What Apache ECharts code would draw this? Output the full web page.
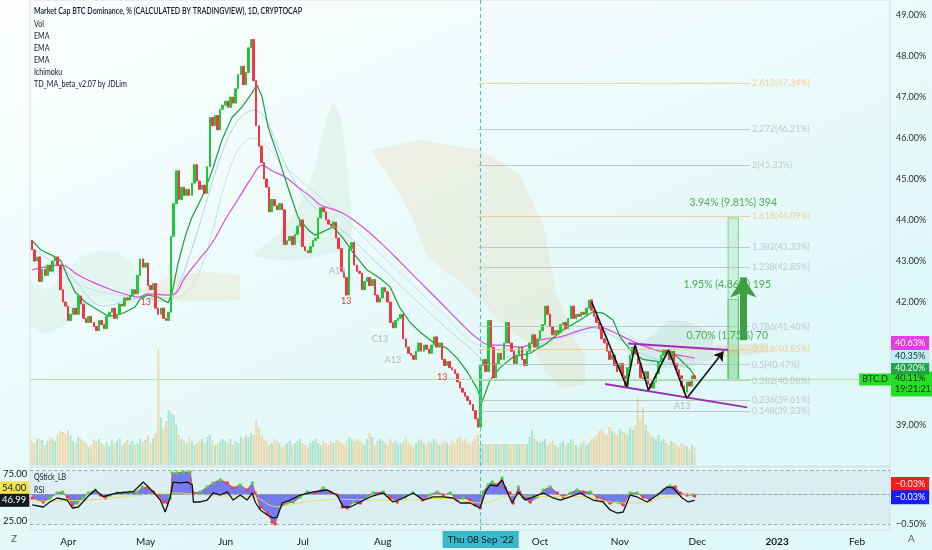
<!DOCTYPE html>
<html><head><meta charset="utf-8">
<script src="https://cdn.jsdelivr.net/npm/echarts@6/dist/echarts.min.js"></script>
<style>html,body{margin:0;padding:0;background:#fff}#c{width:932px;height:550px}</style>
</head><body><div id="c"></div>
<script>
// ================= DATA (day index 0 = 18 Mar 2022) =================
const firstOpen = 43.5;
const closeMar = [43.27, 43.0, 43.1, 42.5, 42.8, 42.65, 42.9, 42.75, 43.0, 43.1, 42.9, 42.3, 42.0, 41.9];
const closeApr = [41.55, 41.7, 41.85, 41.7, 42.15, 41.95, 41.6, 41.5, 41.65, 41.5, 41.4, 41.3, 41.55, 41.45, 41.35, 41.65, 41.75, 41.85, 41.6, 41.7, 41.95, 41.9, 42.1, 42.05, 42.15, 42.3, 42.2, 42.65, 43.05, 42.85];
const closeMay = [42.95, 42.4, 42.3, 42.45, 41.85, 41.7, 41.85, 41.6, 41.55, 41.75, 43.6, 44.4, 45.2, 44.5, 44.8, 44.6, 44.75, 44.6, 44.9, 45.35, 44.95, 44.75, 44.85, 44.65, 45.3, 46.5, 46.3, 46.55, 46.2, 46.7, 46.8];
const closeJun = [46.9, 46.75, 47.0, 46.85, 47.2, 47.55, 47.75, 47.3, 47.6, 48.2, 48.4, 47.4, 46.3, 45.8, 45.4, 45.0, 44.8, 44.2, 44.5, 44.35, 44.25, 44.4, 44.25, 43.4, 43.5, 43.6, 43.4, 43.65, 43.85, 44.0];
const closeJul = [43.35, 43.25, 43.2, 43.35, 43.5, 43.55, 44.05, 44.3, 44.2, 44.0, 43.9, 43.85, 43.95, 43.56, 43.3, 42.75, 42.6, 42.17, 43.3, 43.45, 42.9, 42.75, 42.7, 42.3, 42.5, 42.6, 42.4, 42.55, 42.17, 42.0, 42.1];
const closeAug = [42.35, 42.25, 42.0, 41.5, 41.37, 41.55, 41.6, 41.7, 41.1, 40.9, 40.75, 40.7, 40.6, 40.8, 41.0, 40.8, 40.95, 40.85, 40.75, 40.95, 41.15, 40.9, 41.0, 40.6, 40.45, 40.55, 40.4, 40.35, 40.25, 40.05, 39.9];
const closeSep = [39.8, 39.7, 39.6, 39.5, 39.35, 39.15, 38.95, 40.45, 40.6, 40.3, 41.55, 40.9, 40.15, 40.5, 40.75, 40.6, 41.0, 41.5, 41.0, 40.8, 40.5, 40.7, 40.9, 40.6, 40.45, 40.8, 41.0, 41.2, 40.9, 41.1];
const closeOct = [41.3, 41.45, 41.9, 41.7, 41.4, 41.2, 41.3, 41.25, 41.45, 41.5, 41.35, 41.6, 41.9, 41.6, 41.7, 41.65, 41.75, 41.7, 41.85, 42.05, 41.8, 41.65, 41.5, 41.35, 41.1, 41.0, 40.8, 40.6, 40.7, 40.45, 40.3];
const closeNov = [40.5, 40.2, 39.95, 40.4, 40.7, 40.9, 40.75, 40.5, 40.15, 40.1, 40.3, 40.0, 39.9, 40.05, 40.25, 40.55, 40.7, 40.83, 40.75, 40.6, 40.8, 40.5, 40.35, 40.2, 39.95, 39.8, 40.05, 39.95, 40.2, 40.11];

const volMar = [24, 22, 26, 27, 25, 20, 24, 28, 26, 24, 30, 34, 33, 31];
const volApr = [35, 30, 24, 22, 28, 26, 24, 22, 18, 20, 25, 24, 26, 22, 20, 23, 19, 25, 22, 24, 27, 20, 22, 25, 21, 24, 20, 22, 26, 23];
const volMay = [25, 30, 22, 27, 32, 116, 48, 38, 44, 55, 52, 50, 40, 30, 26, 24, 22, 28, 24, 20, 22, 24, 26, 22, 28, 30, 25, 20, 22, 24, 26];
const volJun = [24, 22, 26, 20, 24, 22, 28, 26, 30, 28, 32, 30, 45, 37, 30, 26, 24, 20, 22, 26, 24, 22, 18, 20, 22, 24, 20, 22, 24, 26];
const volJul = [22, 20, 18, 22, 24, 26, 22, 20, 24, 22, 20, 24, 22, 26, 24, 22, 20, 24, 28, 26, 24, 26, 24, 22, 20, 26, 32, 28, 20, 24, 26];
const volAug = [24, 22, 20, 26, 22, 24, 20, 22, 24, 28, 22, 20, 18, 22, 24, 26, 22, 20, 24, 22, 26, 24, 20, 22, 24, 22, 20, 24, 22, 26, 28];
const volSep = [24, 26, 22, 20, 24, 26, 30, 21, 21, 21, 21, 21, 21, 21, 21, 21, 21, 21, 21, 21, 21, 21, 21, 21, 21, 21, 28, 35, 26, 24];
const volOct = [22, 24, 26, 20, 22, 24, 20, 18, 22, 24, 20, 22, 26, 24, 20, 18, 22, 24, 20, 22, 26, 28, 30, 34, 36, 32, 30, 38, 34, 32, 30];
const volNov = [36, 34, 32, 30, 38, 35, 40, 68, 45, 58, 40, 34, 30, 28, 26, 30, 24, 26, 22, 20, 24, 22, 20, 18, 22, 20, 18, 16, 20, 18];

// moving averages: [dayIndex, value]
const emaMagenta = [[0,42.78],[11.4,42.9],[17.9,42.66],[24.4,42.46],[30.8,42.3],[37.3,42.17],[41.2,42.12],[45,42.2],[52.8,42.17],[55.5,42.2],[59.4,42.6],[64.4,43.0],[69.9,43.44],[74.9,44.0],[79.9,44.5],[85.4,45.05],[89.3,45.34],[93.1,45.2],[98.2,45.05],[103.2,44.8],[108.7,44.54],[111.7,44.37],[119.5,44.2],[127.3,43.88],[135,43.46],[142.8,42.98],[150.5,42.49],[158.3,42.0],[166.1,41.5],[172.6,41.12],[177.7,40.95],[181.6,40.95],[189.3,40.9],[197.1,41.07],[204.9,41.15],[212.6,41.3],[219.2,41.4],[225.4,41.27],[232,41.07],[238.6,40.9],[244.8,40.78],[251.4,40.7],[257,40.63]];
const tdMA = [[0,43.5],[3.5,43.27],[9,43.1],[11.3,43.0],[14,42.6],[16.7,42.25],[20.6,42.0],[24.5,41.85],[29.5,41.66],[32.2,41.66],[36.1,41.75],[40,41.88],[42.3,42.1],[45,42.17],[48.9,42.12],[52.8,41.98],[54.3,42.2],[56.7,42.95],[59.4,43.59],[62.1,44.07],[66,44.56],[69.9,45.2],[73.7,45.95],[77.6,46.5],[81.5,46.76],[85.4,47.1],[87.3,47.3],[89.3,47.0],[91.6,46.27],[95.5,45.54],[99.3,44.8],[103.2,44.07],[107.1,43.76],[109.8,43.63],[111.7,43.68],[116.8,43.83],[120.7,43.56],[124.6,43.2],[130,42.78],[135,42.58],[138.9,42.37],[142.8,41.85],[146.7,41.5],[150.5,41.27],[155.6,41.02],[161,40.87],[164.9,40.63],[168.8,40.3],[172.6,39.9],[174.6,39.56],[177.7,40.1],[181.6,40.4],[186.6,40.66],[193.2,40.75],[199.8,41.0],[206,41.32],[212.6,41.56],[217.6,41.76],[221.5,41.73],[225.4,41.56],[228.1,41.15],[232,40.83],[237,40.6],[243.6,40.54],[247.5,40.8],[251.4,40.6],[255.3,40.35],[257,40.2]];
const emaBlueFast = [[0,43.3],[14,42.7],[28,41.9],[42,42.1],[53,42.0],[55.5,42.2],[86.5,46.68],[90.4,46.5],[97,45.54],[103.2,44.8],[109.8,44.3],[119.5,43.8],[142.8,42.41],[158.3,41.5],[169.9,40.88],[177.7,40.5],[181.6,40.59],[193,40.88],[205,41.15],[216.5,41.37],[226,41.15],[235.9,40.76],[245.6,40.54],[257,40.35]];
const emaBlueSlow = [[0,43.0],[30,42.2],[55,42.1],[86,46.0],[100,45.2],[120,44.1],[143,42.7],[158,41.8],[175,40.9],[190,40.8],[210,41.2],[225,41.3],[240,40.9],[257,40.55]];

// Ichimoku cloud outlines [dayIndex, value]
const cloudGreenA = [[-0.7,42.5],[6,42.3],[12,42.6],[18,43.1],[26,43.25],[34,43.2],[40,42.9],[40,41.95],[30,42.0],[20,41.9],[12,41.4],[4,41.2],[-0.7,41.4]];
const cloudBeigeA = [[41.9,42.29],[55.5,42.66],[69.1,42.73],[80.7,42.66],[80.7,42.05],[65.2,42.0],[49.7,42.05],[41.9,42.1]];
const cloudGreenB = [[86.5,43.22],[95,43.6],[104,44.4],[110,45.3],[114,46.5],[117,46.9],[120,46.5],[122,45.5],[124,44.0],[124,43.3],[110,43.1],[100,43.0],[86.5,43.1]];
const cloudBeigeB = [[131.1,45.71],[150.5,45.95],[173.8,45.71],[189.3,45.1],[199,43.76],[202.9,42.29],[210.7,41.07],[214.6,40.71],[214.6,39.98],[204.9,39.9],[199,40.34],[193.2,40.95],[181.6,41.51],[173.8,42.05],[164.9,42.54],[153.3,43.1],[146.7,44.17],[137,45.22]];
const cloudGreenC = [[235.9,40.95],[247.5,41.56],[255.3,41.51],[264.2,41.2],[264.2,40.59],[255.3,40.41],[243.6,40.39],[235.9,40.59]];
const cloudBeigeC = [[265,40.95],[285.2,41.0],[285.2,40.76],[265,40.63]];

// Fibonacci levels drawn from the 7 Sep low
const fibRatio = ['2.618','2.272','2','1.618','1.382','1.238','0.786','0.618','0.5','0.382','0.236','0.148'];
const fibValue = [47.34, 46.21, 45.33, 44.09, 43.33, 42.85, 41.40, 40.85, 40.47, 40.08, 39.61, 39.33];
const fibStartIdx = 173, fibEndIdx = 278.5;

// drawings
const zigzag = [[217.1,42.0],[230.7,39.93],[233.9,40.95],[239.1,39.85],[246.9,40.83],[254,39.65]];
const zigzagArrowEnd = [268.2,40.79];
const channelTop = [[231.2,40.99],[270,40.83]];
const channelBottom = [[222.3,40.0],[277.4,39.43]];
const measureX = [270, 274];
const measureBase = 40.11;
const measureTops = [44.05, 42.06, 40.81];
const measureText = ['3.94% (9.81%) 394', '1.95% (4.86%) 195', '0.70% (1.75%) 70'];
const bigArrow = {x: 275.9, from: 41.07, to: 42.6};

// TD sequential markers
const tdMarks = [[44.2,42.0,'13','r'],[121.9,42.02,'13','r'],[159.1,40.17,'13','r'],[140,40.59,'A13','g'],[135,41.1,'C13','g'],[118.4,42.76,'A13','g'],[252.2,39.46,'A13','g']];

// lower pane: RSI, QStick and RSI MA [dayIndex, value]
const rsiPts = [[0,42.0],[4.3,39.8],[7,45.5],[9.7,49.5],[13.6,47.3],[15.6,38.7],[17.9,39.8],[21.4,50.6],[24.5,58.1],[27.6,50.9],[33,54.9],[39.2,56.3],[43.1,66.7],[47,56.0],[49.7,47.3],[51.6,34.4],[53.6,50.6],[54.7,66.7],[57.5,65.7],[60.2,66.7],[62.1,63.5],[62.5,45.2],[65.2,45.2],[67.9,47.3],[70.2,54.9],[73,52.7],[75.7,56.0],[78,47.3],[80.7,52.7],[83.4,47.3],[85.4,54.9],[86.5,45.2],[88.5,36.6],[91.2,31.2],[93.5,27.9],[95.1,29.0],[97,44.1],[100.1,47.3],[104,52.7],[109,56.0],[114.5,58.1],[118.3,52.7],[120.7,39.8],[123.4,39.8],[127.3,45.2],[131.1,50.6],[136.2,54.9],[140,45.2],[143.9,49.5],[147.8,54.9],[151.7,47.3],[155.6,50.6],[159.5,50.6],[163.3,49.5],[166.1,44.1],[169.9,44.1],[173.8,38.7],[175.8,56.0],[177.7,63.5],[180.4,62.4],[182.3,68.9],[184.3,56.0],[186.2,44.1],[188.6,56.0],[191.3,47.3],[194.4,50.6],[198.3,54.9],[202.1,49.5],[204.9,47.3],[208.7,50.6],[212.6,54.9],[215.3,50.6],[217.6,47.3],[221.5,45.2],[224.2,36.6],[226.9,33.3],[229.3,34.4],[232,52.7],[234.7,50.6],[238.6,45.2],[242.5,52.7],[246.3,61.4],[248.7,60.3],[252.2,49.5],[254.5,45.2],[257,46.99]];
const qstickPts = [[0,-0.06],[4.3,-0.13],[7,-0.06],[9.7,0.02],[11.7,0.04],[13.6,-0.045],[15.6,-0.18],[17.5,-0.145],[19.8,-0.06],[21.8,0.02],[24.5,0.07],[26.4,-0.01],[28.4,-0.06],[30.3,-0.01],[33,0.02],[35.3,0.02],[38.1,0.04],[40.8,0.04],[42.7,0.12],[44.6,0.105],[47,0.04],[48.9,-0.01],[50.9,-0.13],[52.4,-0.145],[53.6,-0.06],[54.3,0.355],[56.3,0.355],[58.6,0.37],[61.3,0.37],[62.5,0.02],[65.2,0.04],[67.9,0.12],[70.2,0.19],[73,0.24],[75.7,0.19],[78,0.105],[80.7,0.155],[83.4,0.07],[85.4,0.19],[86.5,0.02],[88.5,-0.21],[91.2,-0.31],[93.1,-0.46],[94.3,-0.495],[96.2,-0.21],[98.9,-0.145],[101.3,-0.13],[104,-0.045],[106.7,0.04],[109.8,0.02],[112.9,0.105],[115.6,0.04],[118.3,-0.01],[120.3,-0.21],[122.2,-0.23],[124.6,-0.13],[127.3,-0.145],[130,-0.045],[132.3,0.02],[136.2,0.04],[138.9,-0.045],[141.6,-0.13],[144.7,-0.045],[147.8,0.02],[151.3,-0.095],[154.4,-0.01],[157.1,0.04],[159.5,-0.01],[162.2,0.02],[164.9,-0.095],[167.2,-0.06],[169.9,-0.095],[171.9,-0.18],[173.8,-0.23],[175,0.04],[176.9,0.155],[178.5,0.205],[180.4,0.155],[182.3,0.27],[183.5,0.105],[185.4,0.02],[186.6,-0.145],[188.6,0.12],[190.5,-0.045],[193.2,-0.13],[195.9,-0.045],[198.3,0.07],[201,0.12],[203.7,0.02],[206,-0.045],[208.7,0.02],[211.4,0.07],[213.8,0.04],[216.5,0.04],[219.2,-0.06],[221.5,-0.095],[224.2,-0.145],[226.9,-0.13],[229.3,-0.18],[232,0.02],[234.7,0.02],[237,-0.045],[239.8,-0.095],[242.5,-0.01],[244.9,0.07],[247.5,0.14],[249.5,0.12],[251.4,0.02],[254.1,-0.01],[256.4,-0.01],[257,-0.03]];
const rsiMaPts = [[0,46],[20,47],[40,52],[55,55],[70,52],[85,51],[95,40],[105,45],[120,48],[140,47],[160,49],[175,44],[185,52],[200,51],[215,51],[225,45],[235,44],[245,50],[257,54]];

// axis ticks
const priceTicks = [39, 42, 43, 44, 45, 46, 47, 48, 49];
const monthTickIdx = [14, 44, 75, 105, 136, 197, 228, 258, 289, 320];
const monthTickText = ['Apr','May','Jun','Jul','Aug','Oct','Nov','Dec','2023','Feb'];
const crosshairIdx = 174, crosshairText = "Thu 08 Sep '22";
const lastPrice = 40.11, countdown = '19:21:21', symbolName = 'BTC.D';

// ================= LAYOUT / STYLE =================
const X_MIN = -0.74, X_MAX = 332.8;
const Y_MIN = 38.0, Y_MAX = 49.366;
const RSI_MIN = 15, RSI_MAX = 82.9, Q_MIN = -0.595, Q_MAX = 0.455;
const MAIN_H = 466, LOW_H = 63;
const pxMain = MAIN_H / (Y_MAX - Y_MIN);
const pxRsi = LOW_H / (RSI_MAX - RSI_MIN);
const pxQ = LOW_H / (Q_MAX - Q_MIN);
const UP = '#1fc83a', DOWN = '#f23645';
const FONT = 'Lato, "Open Sans", Roboto, sans-serif';
const HEAD_SCALE = 0.745;

const closes = [].concat(closeMar, closeApr, closeMay, closeJun, closeJul, closeAug, closeSep, closeOct, closeNov);
const vols = [].concat(volMar, volApr, volMay, volJun, volJul, volAug, volSep, volOct, volNov);
const candles = closes.map((c, i) => {
  const o = i === 0 ? firstOpen : closes[i - 1];
  return [i, o, c, Math.min(o, c), Math.max(o, c)];
});
const volData = vols.map((v, i) => ({
  value: [i, v],
  itemStyle: { color: candles[i][2] >= candles[i][1] ? 'rgba(70,195,130,0.36)' : 'rgba(245,170,60,0.40)' }
}));

const cloudShapes = [
  {pts: cloudGreenA, fill: 'rgba(130,200,150,0.10)'},
  {pts: cloudBeigeA, fill: 'rgba(225,190,120,0.16)'},
  {pts: cloudGreenB, fill: 'rgba(130,200,150,0.12)'},
  {pts: cloudBeigeB, fill: 'rgba(225,190,125,0.18)'},
  {pts: cloudGreenC, fill: 'rgba(150,185,160,0.18)'},
  {pts: cloudBeigeC, fill: 'rgba(225,185,120,0.22)'}
];

const last = a => a[a.length - 1][1];
const shiftMain = (v, px) => v - px / pxMain;
const tagLabel = (text, bg, fg) => ({
  show: true, position: 'end', distance: 1, formatter: text, backgroundColor: bg, color: fg,
  padding: [2, 4, 1, 4], fontSize: 9, fontFamily: FONT, lineHeight: 11
});
const hidden = {color: 'rgba(0,0,0,0)', width: 0};

const fibLines = fibValue.map((v, k) => {
  const orange = (fibRatio[k] === '2.618' || fibRatio[k] === '1.618' || fibRatio[k] === '0.618');
  const col = orange ? '#f3bd78' : '#aeb2bb';
  return [
    {coord: [fibStartIdx, v], lineStyle: {color: col, width: 1, type: 'solid', opacity: 0.7},
     label: {show: true, position: 'end', distance: 2, formatter: fibRatio[k] + '(' + v.toFixed(2) + '%)', color: col, fontSize: 9, fontFamily: FONT}},
    {coord: [fibEndIdx, v]}
  ];
});

const measureAreas = measureTops.map((t, k) => [
  {coord: [measureX[0], measureBase],
   label: {show: true, position: 'top', distance: 9, formatter: measureText[k], color: '#4cae4f', fontSize: 10.5, fontFamily: FONT, offset: [k === 0 ? 0 : -6, 0]}},
  {coord: [measureX[1], t]}
]);

const tdPoints = tdMarks.map(m => ({
  coord: [m[0], m[1]], symbolSize: 0,
  label: {show: true, position: 'inside', formatter: m[2], color: m[3] === 'r' ? '#e53935' : '#b4b7bf', fontSize: 9, fontFamily: FONT}
}));

const headText = (txt, top, font) => ({type: 'text', x: 34, y: top, scaleX: HEAD_SCALE, z: 100,
  style: {text: txt, font: font, fill: '#131722'}});

const option = {
  animation: false,
  backgroundColor: {type: 'linear', x: 0, y: 0, x2: 0.25, y2: 1,
    colorStops: [{offset: 0, color: '#fdfefe'}, {offset: 0.55, color: '#edfbfb'}, {offset: 1, color: '#e1f8f8'}]},
  textStyle: {fontFamily: FONT},
  grid: [
    {left: 30, right: 42, top: 0, height: MAIN_H, show: true, borderColor: '#d6e0e4', borderWidth: 1},
    {left: 30, right: 42, top: 330, bottom: 85, show: false},
    {left: 30, right: 42, top: 467, height: LOW_H, show: true, borderColor: '#d6e0e4', borderWidth: 1}
  ],
  xAxis: [
    {gridIndex: 0, type: 'value', min: X_MIN, max: X_MAX, show: false},
    {gridIndex: 1, type: 'value', min: X_MIN, max: X_MAX, show: false},
    {gridIndex: 2, type: 'value', min: X_MIN, max: X_MAX,
      axisLine: {show: true, lineStyle: {color: '#cdd5d9'}}, axisTick: {show: false}, splitLine: {show: false},
      axisLabel: {customValues: monthTickIdx, margin: 7, fontSize: 10, color: '#131722',
        formatter: v => { const t = monthTickText[monthTickIdx.indexOf(v)]; return t === '2023' ? '{b|' + t + '}' : t; },
        rich: {b: {fontWeight: 'bold', fontSize: 10, color: '#131722'}}}}
  ],
  yAxis: [
    {gridIndex: 0, type: 'value', position: 'right', min: Y_MIN, max: Y_MAX,
      axisLine: {show: false}, axisTick: {show: false}, splitLine: {show: false},
      axisLabel: {customValues: priceTicks, formatter: v => v.toFixed(2) + '%', color: '#2a2e39', fontSize: 9, margin: 6}},
    {gridIndex: 1, type: 'value', min: 0, max: 135, show: false},
    {gridIndex: 2, type: 'value', position: 'left', min: RSI_MIN, max: RSI_MAX,
      axisLine: {show: false}, axisTick: {show: false}, splitLine: {show: false},
      axisLabel: {customValues: [25, 75], formatter: v => v.toFixed(2), color: '#131722', fontSize: 9.5, margin: 3}},
    {gridIndex: 2, type: 'value', position: 'right', min: Q_MIN, max: Q_MAX,
      axisLine: {show: false}, axisTick: {show: false}, splitLine: {show: false},
      axisLabel: {customValues: [-0.5], formatter: v => '\u2212' + Math.abs(v).toFixed(2) + '%', color: '#2a2e39', fontSize: 9, margin: 6}}
  ],
  series: [
    {type: 'custom', name: 'cloud', xAxisIndex: 0, yAxisIndex: 0, silent: true, z: 1, clip: true,
      data: cloudShapes.map(s => [s.pts[0][0], s.pts[0][1]]),
      renderItem: (params, api) => {
        const s = cloudShapes[params.dataIndex];
        return {type: 'polygon', shape: {points: s.pts.map(p => api.coord(p))}, style: {fill: s.fill}};
      }},
    {type: 'bar', name: 'Vol', xAxisIndex: 1, yAxisIndex: 1, data: volData, barWidth: 2, z: 1, silent: true},
    {type: 'line', name: 'EMA slow', xAxisIndex: 0, yAxisIndex: 0, data: emaBlueSlow, smooth: 0.4, showSymbol: false, silent: true, z: 2,
      lineStyle: {color: '#c6e3ec', width: 1}},
    {type: 'line', name: 'EMA fast', xAxisIndex: 0, yAxisIndex: 0, data: emaBlueFast, smooth: 0.4, showSymbol: false, silent: true, z: 2,
      lineStyle: {color: '#acd8e7', width: 1}},
    {type: 'line', name: 'EMA', xAxisIndex: 0, yAxisIndex: 0, data: emaMagenta, smooth: 0.4, showSymbol: false, silent: true, z: 2,
      lineStyle: {color: '#dd4bdd', width: 1.2}},
    {type: 'line', name: 'TD_MA', xAxisIndex: 0, yAxisIndex: 0, data: tdMA, showSymbol: false, silent: true, z: 3,
      lineStyle: {color: '#1a9f3c', width: 1.2}},
    {type: 'candlestick', name: 'BTC.D', xAxisIndex: 0, yAxisIndex: 0, data: candles, encode: {x: 0, y: [1, 2, 3, 4]},
      barWidth: 2, z: 4, silent: true,
      itemStyle: {color: UP, color0: DOWN, borderColor: UP, borderColor0: DOWN, borderWidth: 1},
      markPoint: {silent: true, symbol: 'circle', data: tdPoints.concat([
        {coord: [327, lastPrice], symbolSize: 0,
         label: {show: true, position: 'inside', formatter: symbolName, backgroundColor: '#25dd25', color: '#0d2a0d', padding: [2, 3, 1, 3], fontSize: 9, fontFamily: FONT}}
      ])},
      markLine: {silent: true, symbol: 'none', animation: false, data: [
        {xAxis: crosshairIdx, lineStyle: {color: '#46c3cf', width: 1, type: [4, 3]}, label: {show: false}},
        {yAxis: lastPrice, lineStyle: {color: '#a9ec9f', width: 1, type: 'solid'}, label: {show: false}},
        {yAxis: shiftMain(lastPrice, 4.5), lineStyle: hidden, label: tagLabel(lastPrice.toFixed(2) + '%\n' + countdown, '#25dd25', '#0d2a0d')},
        {yAxis: shiftMain(last(tdMA), -8), lineStyle: hidden, label: tagLabel(last(tdMA).toFixed(2) + '%', '#22a54a', '#e9ffe9')},
        {yAxis: shiftMain(last(emaBlueFast), -13.6), lineStyle: hidden, label: tagLabel(last(emaBlueFast).toFixed(2) + '%', '#bdeef2', '#1b2a30')},
        {yAxis: shiftMain(last(emaMagenta), -15), lineStyle: hidden, label: tagLabel(last(emaMagenta).toFixed(2) + '%', '#e23ee2', '#ffffff')}
      ]}},
    {type: 'line', name: 'fib', xAxisIndex: 0, yAxisIndex: 0, data: [], silent: true, z: 3,
      markLine: {silent: true, symbol: 'none', data: fibLines}},
    {type: 'line', name: 'channelTop', xAxisIndex: 0, yAxisIndex: 0, data: channelTop, showSymbol: false, silent: true, z: 6,
      lineStyle: {color: '#9c2fb0', width: 2}},
    {type: 'line', name: 'channelBottom', xAxisIndex: 0, yAxisIndex: 0, data: channelBottom, showSymbol: false, silent: true, z: 6,
      lineStyle: {color: '#9c2fb0', width: 2}},
    {type: 'line', name: 'zigzag', xAxisIndex: 0, yAxisIndex: 0, data: zigzag, showSymbol: false, silent: true, z: 7,
      lineStyle: {color: '#111111', width: 1.6},
      markLine: {silent: true, symbol: ['none', 'arrow'], symbolSize: 9, data: [
        [{coord: zigzag[zigzag.length - 1], lineStyle: {color: '#111', width: 1.6, type: 'solid'}, label: {show: false}}, {coord: zigzagArrowEnd}]
      ]}},
    {type: 'line', name: 'measure', xAxisIndex: 0, yAxisIndex: 0, data: [], silent: true, z: 5,
      markArea: {silent: true, itemStyle: {color: 'rgba(90,210,100,0.17)', borderColor: 'rgba(76,175,80,0.55)', borderWidth: 1}, data: measureAreas},
      markLine: {silent: true, symbol: ['none', 'arrow'], symbolSize: 20, data: [
        [{coord: [bigArrow.x, bigArrow.from], lineStyle: {color: '#3f9f45', width: 7, type: 'solid'}, label: {show: false}}, {coord: [bigArrow.x, bigArrow.to]}]
      ]}},
    // lower pane
    {type: 'line', name: 'QStick', xAxisIndex: 2, yAxisIndex: 3, data: qstickPts, silent: true, z: 3,
      showSymbol: true, symbol: 'circle', symbolSize: 3.5,
      lineStyle: {color: '#e04848', width: 1},
      areaStyle: {color: 'rgba(45,45,235,0.85)', origin: 0},
      itemStyle: {color: p => (p.dataIndex > 0 && qstickPts[p.dataIndex][1] >= qstickPts[p.dataIndex - 1][1]) ? '#3ddc3d' : '#f03c3c'},
      markArea: {silent: true, itemStyle: {color: 'rgba(110,110,190,0.07)'}, data: [[{yAxis: 0.4}, {yAxis: -0.5}]]},
      markLine: {silent: true, symbol: 'none', data: [
        {yAxis: 0.4, lineStyle: {color: '#9aa0aa', width: 1, type: [3, 3]}, label: {show: false}},
        {yAxis: 0, lineStyle: {color: '#9aa0aa', width: 1, type: [3, 3]}, label: {show: false}},
        {yAxis: -0.5, lineStyle: {color: '#9aa0aa', width: 1, type: [3, 3]}, label: {show: false}},
        {yAxis: last(qstickPts) + 12 / pxQ, lineStyle: hidden, label: tagLabel('\u22120.03%', '#ff1a1a', '#ffffff')},
        {yAxis: last(qstickPts) - 1 / pxQ, lineStyle: hidden, label: tagLabel('\u22120.03%', '#1a1aff', '#ffffff')}
      ]}},
    {type: 'line', name: 'RSI MA', xAxisIndex: 2, yAxisIndex: 2, data: rsiMaPts, smooth: 0.4, showSymbol: false, silent: true, z: 4,
      lineStyle: {color: '#e9dc55', width: 1, opacity: 0.9},
      markLine: {silent: true, symbol: 'none', data: [
        {yAxis: last(rsiMaPts) + 6 / pxRsi, lineStyle: hidden,
         label: {show: true, position: 'start', distance: 1, formatter: last(rsiMaPts).toFixed(2), backgroundColor: '#f4e14e', color: '#131722', padding: [2, 3, 1, 3], fontSize: 9.5}}
      ]}},
    {type: 'line', name: 'RSI', xAxisIndex: 2, yAxisIndex: 2, data: rsiPts, showSymbol: false, silent: true, z: 5,
      lineStyle: {color: '#111111', width: 1.3},
      markLine: {silent: true, symbol: 'none', data: [
        {yAxis: last(rsiPts), lineStyle: hidden,
         label: {show: true, position: 'start', distance: 1, formatter: last(rsiPts).toFixed(2), backgroundColor: '#131722', color: '#ffffff', padding: [2, 3, 1, 3], fontSize: 9.5}},
        {xAxis: crosshairIdx, lineStyle: {color: '#46c3cf', width: 1, type: [4, 3]},
         label: {show: true, position: 'start', distance: 1, formatter: crosshairText, backgroundColor: '#38b9cb', color: '#131722', padding: [4, 5, 3, 5], fontSize: 10}}
      ]}}
  ],
  graphic: [
    headText('Market Cap BTC Dominance, % (CALCULATED BY TRADINGVIEW), 1D, CRYPTOCAP', 6, '600 9.5px ' + FONT),
    headText('Vol', 18.5, '9.5px ' + FONT),
    headText('EMA', 30.5, '9.5px ' + FONT),
    headText('EMA', 42.5, '9.5px ' + FONT),
    headText('EMA', 54.5, '9.5px ' + FONT),
    headText('Ichimoku', 66.5, '9.5px ' + FONT),
    headText('TD_MA_beta_v2.07 by JDLim', 78.5, '9.5px ' + FONT),
    headText('QStick_LB', 471.5, '9.5px ' + FONT),
    headText('RSI', 484.5, '9.5px ' + FONT),
    {type: 'text', left: 11, top: 534, z: 100, style: {text: 'Z', font: '10px ' + FONT, fill: '#555b66'}},
    {type: 'text', left: 908, top: 534, z: 100, style: {text: 'A', font: '10px ' + FONT, fill: '#555b66'}}
  ]
};

const chart = echarts.init(document.getElementById('c'));
chart.setOption(option);
</script>
</body></html>
